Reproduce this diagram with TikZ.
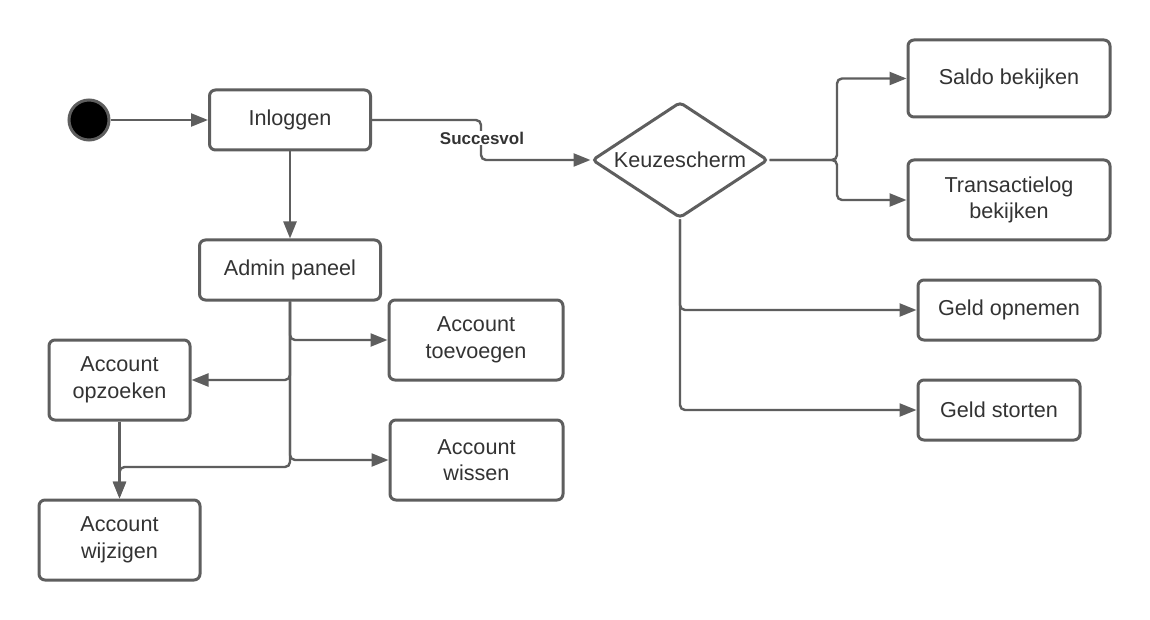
\documentclass[tikz,border=0pt]{standalone}
\usepackage{fontspec}
\setmainfont{Liberation Sans}
\usetikzlibrary{shapes.geometric,arrows.meta}
\definecolor{lc}{HTML}{5E5E5E}
\definecolor{tc}{HTML}{333333}
\begin{document}
\begin{tikzpicture}[x=1pt,y=-1pt,
  box/.style={draw=lc,line width=3pt,rounded corners=6pt,fill=white,text=tc,align=center,inner sep=0pt,font=\fontsize{21.6}{26.5}\selectfont},
  conn/.style={draw=lc,line width=2.4pt,rounded corners=5pt,-{Triangle[length=17pt,width=13pt]}},
  lbl/.style={fill=white,text=tc,inner sep=1pt,font=\bfseries\fontsize{17}{20}\selectfont}
]
\useasboundingbox[fill=white] (0,0) rectangle (1150,620);

% nodes
\node[circle,fill=black,draw=lc,line width=3pt,minimum size=40pt,inner sep=0pt] (start) at (89,120) {};
\node[box,minimum width=161pt,minimum height=60pt] (inl) at (290,120) {Inloggen};
\node[box,minimum width=181pt,minimum height=60pt] (admin) at (290,270) {Admin paneel};
\node[box,minimum width=174pt,minimum height=80pt] (toev) at (476,340) {Account\\toevoegen};
\node[box,minimum width=141pt,minimum height=80pt] (opz) at (119.5,380) {Account\\opzoeken};
\node[box,minimum width=173pt,minimum height=80pt] (wis) at (476.5,460) {Account\\wissen};
\node[box,minimum width=161pt,minimum height=80pt] (wijz) at (119.5,540) {Account\\wijzigen};
\node[diamond,aspect=1.517,draw=lc,line width=3pt,minimum width=176pt,minimum height=116pt,inner sep=0pt,fill=white,text=tc,rounded corners=4pt,font=\fontsize{21.6}{26.5}\selectfont] (k) at (680,160) {Keuzescherm};
\node[box,minimum width=202pt,minimum height=77pt] (saldo) at (1009,78.5) {Saldo bekijken};
\node[box,minimum width=202pt,minimum height=80pt] (trans) at (1009,200) {Transactielog\\bekijken};
\node[box,minimum width=182pt,minimum height=60pt] (opn) at (1009,310) {Geld opnemen};
\node[box,minimum width=162pt,minimum height=60pt] (sto) at (999,410) {Geld storten};

% helper coordinates
\coordinate (s1) at (481,120);
\coordinate (s2) at (481,160);
\coordinate (kr) at (837,160);
\coordinate (j) at (290,467);

% connectors
\draw[conn] (start) -- (inl.west);
\draw[conn] (inl.east) -- (s1) -- (s2) -- (k.west);
\draw[conn] (inl.south) -- (admin.north);
\draw[conn] (k.east) -- (kr) |- (saldo.west);
\draw[conn] (k.east) -- (kr) |- (trans.west);
\draw[conn] (k.south) |- (opn.west);
\draw[conn] (k.south) |- (sto.west);
\draw[conn] (admin.south) |- (toev.west);
\draw[conn] (admin.south) |- (opz.east);
\draw[conn] (admin.south) |- (wis.west);
\draw[conn] (admin.south) -- (j) -| (wijz.north);
\draw[conn] (opz.south) -- (wijz.north);

\node[lbl] (succ) at (482,138) {Succesvol};
\end{tikzpicture}
\end{document}
